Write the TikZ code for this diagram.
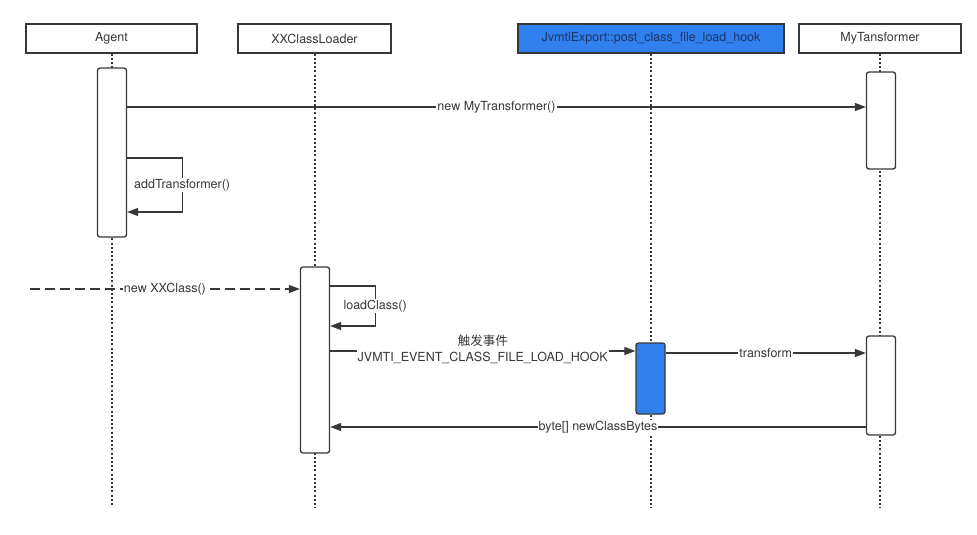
\documentclass[tikz,border=0pt]{standalone}
\usepackage{fontspec}
\setmainfont{TeX Gyre Heros}
\newfontfamily\cjkfont{Noto Sans CJK SC}
\usepackage{tikz}
\usetikzlibrary{arrows.meta,positioning}
\definecolor{inkgray}{RGB}{55,55,55}
\definecolor{hookblue}{RGB}{47,128,237}
\definecolor{hooktext}{RGB}{30,52,105}

\begin{document}
\begin{tikzpicture}[
  x=1pt, y=-1pt,
  font=\fontsize{12.5}{16}\selectfont,
  header/.style={draw=inkgray, line width=1.3pt, minimum height=29pt, inner sep=0pt, text=inkgray, fill=white},
  life/.style={draw=inkgray, line width=2pt, dash pattern=on 2pt off 2.2pt},
  act/.style={draw=inkgray, line width=1.3pt, rounded corners=2.5pt, fill=white, minimum width=29pt, inner sep=0pt},
  msg/.style={draw=inkgray, line width=1.3pt, -{Triangle[length=11pt,width=8pt]}},
  lbl/.style={fill=white, inner sep=1pt, text=inkgray}
]
\useasboundingbox (0,0) rectangle (977,535);

\node[header, minimum width=171pt] (agent) at (111.5,38.5) {Agent};
\node[header, minimum width=153pt] (loader) at (314.5,38.5) {XXClassLoader};
\node[header, minimum width=266pt, fill=hookblue, text=hooktext] (hook) at (651,38.5) {JvmtiExport::post\_class\_file\_load\_hook};
\node[header, minimum width=162pt] (mytrans) at (880,38.5) {MyTansformer};

\draw[life] (agent.south) -- (agent.south |- 0,505);
\draw[life] (loader.south) -- (loader.south |- 0,508);
\draw[life] (hook.south) -- (hook.south |- 0,508);
\draw[life] (mytrans.south) -- (mytrans.south |- 0,508);

\node[act, minimum height=169pt] (agentbar) at (112,152.5) {};
\node[act, minimum height=97pt] (mytbar) at (881,120.5) {};
\node[act, minimum height=186pt] (loaderbar) at (315,360) {};
\node[act, minimum height=71pt, fill=hookblue] (hookbar) at (650.5,378.5) {};
\node[act, minimum height=99pt] (mytbarb) at (881,385.5) {};

\coordinate (caller) at (30,289);

\draw[msg] (agentbar.east |- 0,107) -- node[lbl] {new MyTransformer()} (mytbar.west |- 0,107);
\draw[msg] (agentbar.east |- 0,158) -- ++(55,0) -- node[lbl] {addTransformer()} ++(0,54) -- (agentbar.east |- 0,212);
\draw[msg, dash pattern=on 10pt off 5pt] (caller) -- node[lbl] {new XXClass()} (loaderbar.west |- caller);
\draw[msg] (loaderbar.east |- 0,286) -- ++(45,0) -- node[lbl] {loadClass()} ++(0,40) -- (loaderbar.east |- 0,326);
\draw[msg] (loaderbar.east |- 0,351) -- node[lbl, align=center, yshift=2pt] {{\cjkfont 触发事件}\\JVMTI\_EVENT\_CLASS\_FILE\_LOAD\_HOOK} (hookbar.west |- 0,351);
\draw[msg] (hookbar.east |- 0,353) -- node[lbl] {transform} (mytbarb.west |- 0,353);
\draw[msg] (mytbarb.west |- 0,427) -- node[lbl] {byte[] newClassBytes} (loaderbar.east |- 0,427);
\end{tikzpicture}
\end{document}
